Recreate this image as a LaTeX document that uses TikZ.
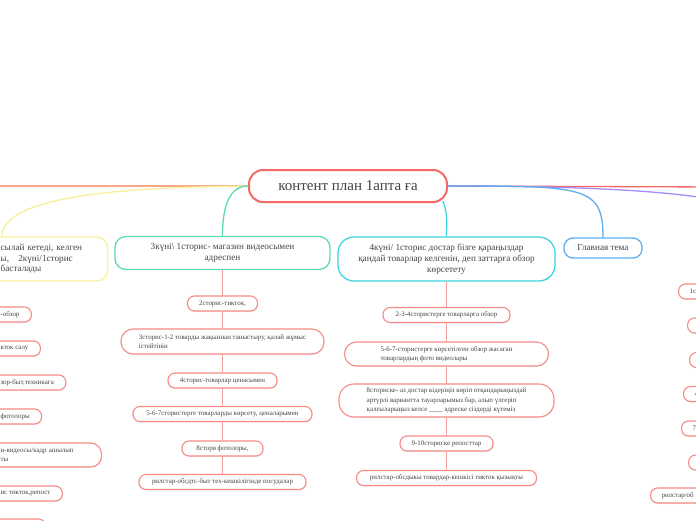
\documentclass[tikz,border=0pt]{standalone}
\usepackage{fontspec}
\setmainfont{Liberation Serif}
\usetikzlibrary{shadows}
\definecolor{ink}{HTML}{444444}
\definecolor{titlered}{HTML}{F26A66}
\definecolor{leafred}{HTML}{F58A87}
\definecolor{linkred}{HTML}{F6A09C}
\definecolor{ylw}{HTML}{F8F09A}
\definecolor{grn}{HTML}{5DDBB2}
\definecolor{cyn}{HTML}{3FD3E0}
\definecolor{blu}{HTML}{5EAEF2}
\definecolor{prp}{HTML}{A78BFA}
\definecolor{org}{HTML}{F9A98A}

\begin{document}
\begin{tikzpicture}[x=1pt,y=-1pt,
  leaf/.style={draw=leafred, line width=1.1pt, fill=white, rounded corners=7pt,
    minimum height=15pt, inner xsep=10pt, inner ysep=1pt, text=ink,
    font=\fontsize{6.9}{9.2}\selectfont,
    drop shadow={opacity=0.12, shadow xshift=0.5pt, shadow yshift=-1pt}},
  cutl/.style={leaf, anchor=west, align=left, inner xsep=12pt},
  cutr/.style={leaf, anchor=west, align=left, inner xsep=11pt, text width=80pt},
  topic/.style={draw=#1, line width=1.3pt, fill=white, rounded corners=11pt,
    text=ink, align=center, font=\fontsize{9.2}{10.7}\selectfont},
  link/.style={draw=linkred, line width=1.3pt}]
  \fill[white] (0,0) rectangle (696,520);
  \useasboundingbox (0,0) rectangle (696,520);

  % main topics
  \node[topic=titlered, line width=2pt, minimum width=198pt, minimum height=32pt,
    rounded corners=14pt, font=\fontsize{15}{17}\selectfont] (title) at (348,186) {контент план 1апта ға};
  \node[topic=ylw, anchor=west, align=left, text width=95pt, inner xsep=12pt,
    minimum height=44pt] (t2) at (-12,259) {сылай кетеді, келген\\ы, \ \ 2күні/1сторис\\басталады};
  \node[topic=grn, minimum width=215pt, minimum height=33pt] (t3) at (222.5,253)
    {3күні\textbackslash\ 1сторис- магазин видеосымен\\адреспен};
  \node[topic=cyn, minimum width=217pt, minimum height=44pt, rounded corners=16pt] (t4) at (446.5,259)
    {4күні/ 1сторис достар бізге қараңыздар\\қандай товарлар келгенін, деп заттарға обзор\\көрсетету};
  \node[topic=blu, minimum width=78pt, minimum height=20pt, rounded corners=9pt] (t5) at (603,248) {Главная тема};

  % off-page ends
  \coordinate (offW) at (-20,186);
  \coordinate (offE) at (720,187);
  \coordinate (offP) at (740,205);

  \draw[org, line width=1.3pt] (title.west) -- (offW);
  \draw[ylw, line width=1.3pt] (title.west) .. controls (150,187) and (2,192) .. ([xshift=14pt]t2.north west);
  \draw[grn, line width=1.3pt] (title.west) to[out=180,in=90] (t3.north);
  \draw[cyn, line width=1.3pt] ([xshift=-5pt,yshift=2pt]title.south east) to[out=-70,in=90] (t4.north);
  \draw[titlered, line width=1.3pt] (title.east) -- (offE);
  \draw[prp, line width=1.3pt] (title.east) .. controls (600,186) and (690,192) .. (offP);
  \draw[blu, line width=1.3pt] (title.east) .. controls (585,186) and (603,186) .. (t5.north);

  % left column (cut by the page edge)
  \node[cutl] (l1) at (-12,314.5) {-обзор};
  \node[cutl] (l2) at (-12,348.5) {кток салу};
  \node[cutl] (l3) at (-12,382.5) {зор-быт,техникага};
  \node[cutl] (l4) at (-12,416.5) {фотолоры};
  \node[cutl, text width=89pt, minimum height=24pt, rounded corners=11pt] (l5) at (-12,455) {и-видеосы/кадр ашылып\\ты};
  \node[cutl] (l6) at (-12,493.5) {ис тикток,репост};
  \node[cutl, minimum width=57pt] (l7) at (-12,526.5) {};

  % 3rd day
  \node[leaf, minimum width=70pt] (g1) at (222.5,303.5) {2сторис-тикток,};
  \node[leaf, minimum width=203pt, minimum height=25pt, rounded corners=12pt, align=left] (g2) at (222.5,341.5)
    {3сторис-1-2 товарды жақыннан таныстыру, қалай жұмыс\\істейтінін};
  \node[leaf, minimum width=109pt] (g3) at (222.5,380.5) {4сторис-товарлар ценасымен};
  \node[leaf, minimum width=179pt] (g4) at (222.5,414) {5-6-7стористерге товарларды көрсету, ценаларымен};
  \node[leaf, minimum width=81pt] (g5) at (222.5,448.5) {8сторя фотолоры,};
  \node[leaf, minimum width=167pt] (g6) at (222.5,482) {рилстар-обсдтс-быт тех-кешкілігінде посудалар};

  % 4th day
  \node[leaf, minimum width=127pt] (c1) at (446.5,315) {2-3-4стористерге товарларга обзор};
  \node[leaf, minimum width=204pt, minimum height=24pt, rounded corners=12pt, align=left] (c2) at (446.5,354)
    {5-6-7-стористерге көрсетілген обзор жасаган\\товарлардың фото видеолары};
  \node[leaf, minimum width=215pt, minimum height=33pt, rounded corners=15pt, align=left] (c3) at (446.5,400.5)
    {8сториске- аз достар кідеріңіз көріп отқандарыңыздай\\әртүрлі вариантта тауарларымыз бар, алып үлгеріп\\қалғыларыңыз келсе \_\_\_\_ адреске сіздерді күтеміз};
  \node[leaf, minimum width=93pt] (c4) at (446.5,443.5) {9-10сториске репосттар};
  \node[leaf, minimum width=180pt] (c5) at (446.5,478) {рилстар-обсдыкы товардар-кешкісі тикток қызықты};

  % right column (cut by the page edge)
  \node[cutr] (r1) at (678,291.5) {1с};
  \node[cutr] (r2) at (687,325.5) {};
  \node[cutr] (r3) at (689,360) {};
  \node[cutr] (r4) at (683,394) {4};
  \node[cutr] (r5) at (681,428.5) {7};
  \node[cutr] (r6) at (688,462.5) {};
  \node[cutr] (r7) at (650,495.5) {рилстар/об};

  \foreach \a/\b in {t3/g1,g1/g2,g2/g3,g3/g4,g4/g5,g5/g6,t4/c1,c1/c2,c2/c3,c3/c4,c4/c5}
    \draw[link] (\a) -- (\b);
\end{tikzpicture}
\end{document}
